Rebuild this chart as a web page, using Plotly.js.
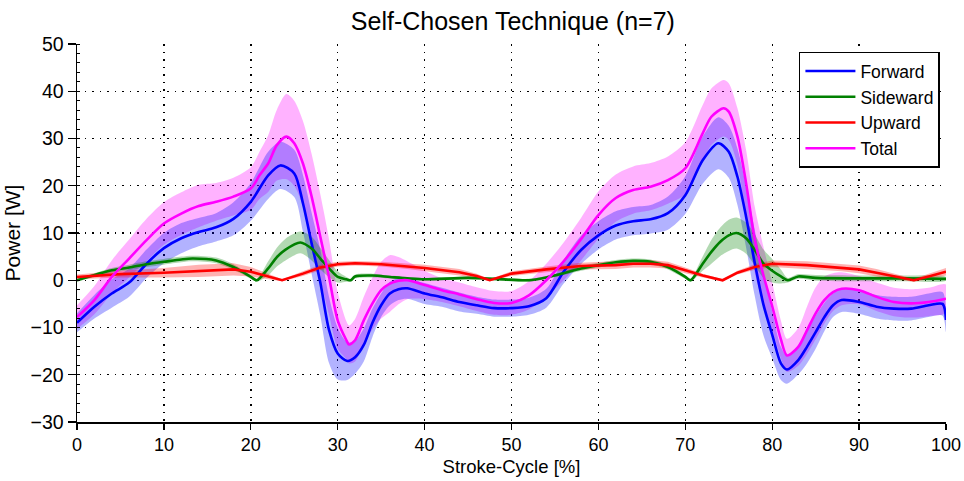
<!DOCTYPE html>
<html>
<head>
<meta charset="utf-8">
<script src="https://cdn.plot.ly/plotly-3.0.1.min.js"></script>
<style>
  html, body { margin: 0; padding: 0; background: #fff; }
  #chart { width: 964px; height: 481px; }
</style>
</head>
<body>
<div id="chart"></div>
<script>
// Mean power per stroke-cycle phase with +/- spread, four components.

// Forward component
const fwdX  = [0,2,4,6,8,10,12,14,16,18,20,22,23.4,25,26,27,28,29,30,31.1,32,33,34,35,36,37,38,40,42,44,46,48,50,52,54,56,58,60,62,64,66,68,70,72,73.8,75,76,77,78,79,80,81,81.7,83,84,85,86,87,88,90,92,94,96,98,99.6,100];
const fwdY  = [-9,-5.6,-2.8,-0.5,3.5,6.8,8.9,10.2,11.2,13,16.6,22.2,24.3,22.6,16.3,7.8,-0.5,-10.5,-15.5,-17.1,-16.3,-13.7,-9,-5.3,-2.8,-1.9,-1.7,-2.8,-3.6,-4.6,-5.3,-5.9,-5.9,-5.5,-3.8,1.8,6.4,9.5,11.6,12.5,12.9,14.2,18,25.4,29,27.2,21.9,13.4,3.6,-5.2,-11.5,-17.6,-18.9,-16.9,-14.1,-11,-7.8,-5.3,-4.2,-4.6,-5.6,-6,-6,-5.3,-5,-8.4];
const fwdSd = [2,2.5,3,3,3,3.2,3.2,3,3,3.5,4,5,5,5,6,6.5,7,7,5.5,4,3.5,3.5,3,2.5,2.5,2.3,2.2,2.2,2,2,1.8,1.8,1.8,1.8,2,2.5,3,3,3,3,3,3.5,4,5,5.5,5.5,6,6.5,7,6.5,5,3.5,3,3,3.5,3.5,3,2.5,2.5,2.5,2.5,2.5,2.5,2.5,2.5,2.5];

// Sideward component
const sideX  = [0,4,6,8,10,12,13.3,16,18,19,20,20.7,22,23,24,25.7,27,28,29,30,31,31.5,32,34,36,38,40,45,48,52,54,56,58,60,62,64,66,68,69,70,70.6,72,73,74,75,75.9,77,78,79,80,81,81.8,83,85,90,95,100];
const sideY  = [0,2.1,2.7,3.4,3.9,4.4,4.6,4.2,2.8,1.8,0.7,0,2.5,4.9,6.5,8,6.7,4.6,2.5,0.7,0.2,0,0.8,1,0.7,0.4,0.2,0.5,0.3,0,0.6,1.5,2.5,3.2,3.8,4.1,3.9,2.8,1.8,0.7,0,3.5,6,8.1,9.5,10,8.9,6.4,3.5,2,0.8,0,0.8,0.5,0.4,0.4,0.3];
const sideSd = [0.3,0.5,0.6,0.6,0.6,0.6,0.6,0.6,0.6,0.5,0.4,0.3,1.5,2,2.3,2.3,2.5,2.3,1.8,1.2,0.5,0.3,0.4,0.4,0.3,0.3,0.3,0.3,0.3,0.3,0.3,0.4,0.5,0.5,0.5,0.5,0.5,0.5,0.5,0.4,0.3,1.5,2.5,3,3.3,3.3,3.3,3.3,3,2.5,1.5,0.5,0.5,0.6,0.6,0.6,0.4];

// Upward component
const upX  = [0,5,10,14,18,20,22,23.6,26,28,30,32,35,38,40,44,46,47.5,50,54,58,62,64,66,68,70,72,74.3,76,78,80,84,88,90,92,94,96.3,98,100];
const upY  = [0.7,1.3,1.6,2,2.3,1.8,0.8,0,1.4,2.7,3.4,3.6,3.4,3,2.6,1.7,0.9,0,1.4,2.3,3,3.2,3.5,3.5,3.2,2.1,1,0,1.6,2.8,3.5,3.2,2.7,2.3,1.6,0.8,0,0.8,1.8];
const upSd = [0.5,0.7,1,1.3,1.3,1,0.6,0.2,0.5,0.6,0.5,0.5,0.5,0.6,0.7,0.7,0.5,0.2,0.5,0.6,0.7,0.8,0.8,0.8,0.7,0.6,0.4,0.2,0.4,0.6,0.7,0.8,0.8,0.8,0.8,0.6,0.3,0.6,0.8];

// Total power
const totX  = [0,2,4,6,8,10,12,14,16,18,20,21,22,23,24.1,25,26,27,28,29,30,31,31.3,32,33,34,35,36,37,38,40,42,44,46,48,50,52,54,56,58,60,62,64,66,68,70,72,73,74.4,75,76,77,78,79,80,81,81.7,83,84,85,86,87,88,90,92,94,96,98,100];
const totY  = [-7.8,-4.2,0.7,4.6,8.5,12,14.1,15.7,16.6,17.7,19.4,22.2,24.7,28.6,30.4,29,24.7,17.7,9.2,0.7,-8.5,-12.7,-13.6,-12.7,-8.5,-4.9,-2.1,-0.7,-0.1,0,-1,-2.1,-3,-4,-4.8,-4.8,-3.2,0,4,8.7,13.8,17.4,19.1,19.8,21.2,23.7,31.1,34.6,36.4,35.7,30.4,20.5,8.5,1,-5.5,-12.5,-15.9,-14.1,-10.6,-7,-4.2,-2.5,-1.8,-2.1,-3.5,-4.6,-4.9,-4.6,-3.9];
const totSd = [2.5,3,3.5,4,4.5,4.5,4.5,4.5,4,4,4.5,5,6,7.5,9,9,9,9,9,8,6,4,4,4.5,5,5.5,6,6,5,4,3,2.5,2.5,2.5,2.5,2.5,3,3.5,4,4.5,5,5,5,5,5,5.5,6,6,6,6,6,7,7,6,5,4,3.5,4,5,5.5,5,4,3.5,3,3,3,3,3,3];

const seriesNames = ['Forward', 'Sideward', 'Upward', 'Total'];

const series = [
  { name: seriesNames[0], x: fwdX,  y: fwdY,  sd: fwdSd,  line: '#0000ff', band: 'rgba(0,0,255,0.3)',   shape: 'spline' },
  { name: seriesNames[1], x: sideX, y: sideY, sd: sideSd, line: '#008000', band: 'rgba(0,128,0,0.3)',   shape: 'spline' },
  { name: seriesNames[2], x: upX,   y: upY,   sd: upSd,   line: '#ff0000', band: 'rgba(255,0,0,0.3)',   shape: 'linear' },
  { name: seriesNames[3], x: totX,  y: totY,  sd: totSd,  line: '#ff00ff', band: 'rgba(255,0,255,0.3)', shape: 'spline' }
];

// Spread bands first (Total underneath), then the mean lines on top.
const bandOrder = [3, 0, 1, 2];
const traces = [];
bandOrder.forEach(i => {
  const s = series[i];
  const hi = s.y.map((v, k) => v + s.sd[k]);
  const lo = s.y.map((v, k) => v - s.sd[k]);
  traces.push({
    type: 'scatter', mode: 'lines',
    x: s.x.concat(s.x.slice().reverse()),
    y: hi.concat(lo.slice().reverse()),
    fill: 'toself', fillcolor: s.band,
    line: { width: 0, shape: s.shape, smoothing: 0.8 },
    hoverinfo: 'skip', showlegend: false
  });
});
series.forEach(s => {
  traces.push({
    type: 'scatter', mode: 'lines', name: s.name,
    x: s.x, y: s.y,
    line: { color: s.line, width: 2.6, shape: s.shape, smoothing: 0.8 }
  });
});

const FONT = 'Liberation Sans, Arial, Helvetica, sans-serif';

const layout = {
  width: 964, height: 481,
  margin: { l: 77, r: 18, t: 44, b: 59 },
  paper_bgcolor: '#fff', plot_bgcolor: '#fff',
  font: { family: FONT, color: '#000', size: 17 },
  title: { text: 'Self-Chosen Technique (n=7)', font: { size: 25, family: FONT }, x: 0.532, xanchor: 'center', y: 0.955, yanchor: 'middle' },
  xaxis: {
    range: [0, 100], dtick: 10, tick0: 0,
    showline: true, linecolor: '#000', linewidth: 1.5,
    ticks: 'outside', ticklen: 6, tickwidth: 1.3, tickcolor: '#000',
    showgrid: true, gridcolor: '#000', gridwidth: 1.4, griddash: '1.5px,6px',
    zeroline: false,
    title: { text: 'Stroke-Cycle [%]', font: { size: 18.5 }, standoff: 6 },
    tickfont: { size: 18 }
  },
  yaxis: {
    range: [-30, 50], dtick: 10, tick0: 0,
    showline: true, linecolor: '#000', linewidth: 1.5,
    ticks: 'outside', ticklen: 8, tickwidth: 1.3, tickcolor: '#000',
    minor: { dtick: 2, ticks: 'inside', ticklen: 3, tickcolor: '#000', tickwidth: 1, showgrid: false },
    showgrid: true, gridcolor: '#000', gridwidth: 1.4, griddash: '1.5px,6px',
    zeroline: false,
    title: { text: 'Power [W]', font: { size: 21 }, standoff: 4 },
    tickfont: { size: 19.5 }
  },
  showlegend: true,
  legend: {
    x: 0.993, xanchor: 'right', y: 0.98, yanchor: 'top',
    bgcolor: '#fff', bordercolor: '#000', borderwidth: 1.5,
    font: { size: 17.5, family: FONT },
    tracegroupgap: 0, itemwidth: 50
  }
};

Plotly.newPlot('chart', traces, layout, { displayModeBar: false, staticPlot: true });
</script>
</body>
</html>
